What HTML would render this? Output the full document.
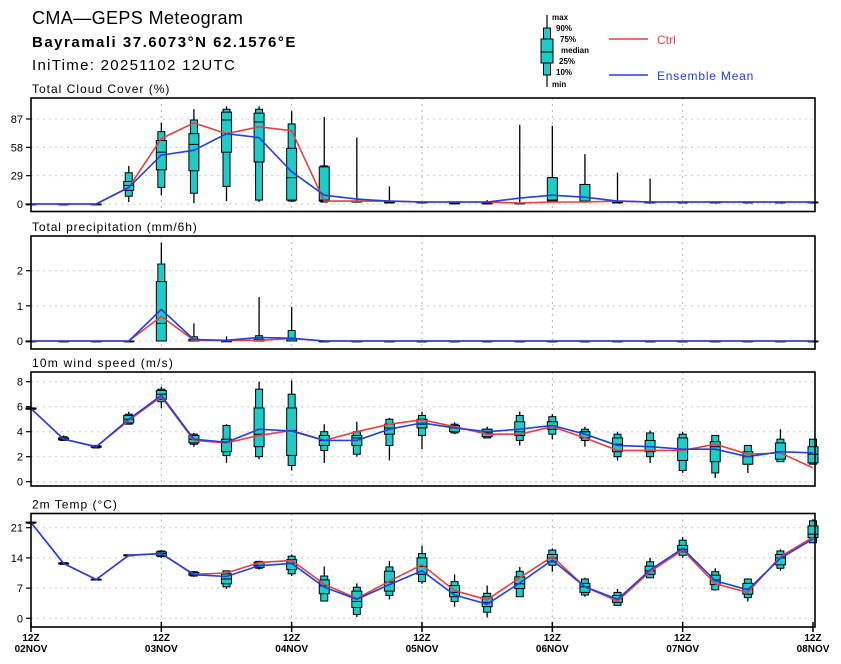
<!DOCTYPE html>
<html><head><meta charset="utf-8"><style>
html,body{margin:0;padding:0;background:#fff;}
svg{display:block;font-family:"Liberation Sans",sans-serif;}
</style></head><body>
<svg id="chart" width="841" height="664" viewBox="0 0 841 664" xmlns="http://www.w3.org/2000/svg">
<g>
<text x="32" y="24" font-size="18" letter-spacing="0.4">CMA—GEPS Meteogram</text>
<text x="32" y="47" font-size="15" font-weight="bold" letter-spacing="1.5">Bayramali 37.6073°N 62.1576°E</text>
<text x="32" y="70" font-size="15" letter-spacing="1.3">IniTime: 20251102 12UTC</text>
</g>
<g font-size="8" font-weight="bold">
<line x1="547" y1="15" x2="547" y2="87" stroke="#000" stroke-width="1.2"/>
<rect x="543.5" y="28" width="7" height="47" fill="#1ecbc8" stroke="#000"/>
<rect x="541" y="39" width="12" height="24" fill="#1ecbc8" stroke="#000"/>
<line x1="541" y1="52" x2="553" y2="52" stroke="#000"/>
<text x="552" y="20">max</text><text x="556" y="31">90%</text><text x="560" y="42">75%</text>
<text x="561" y="53">median</text><text x="559" y="64">25%</text><text x="556" y="75">10%</text><text x="552" y="87">min</text>
<line x1="609" y1="39" x2="648" y2="39" stroke="#e84040" stroke-width="1.5"/>
<text x="657" y="44" font-size="12" font-weight="normal" fill="#e84040">Ctrl</text>
<line x1="609" y1="75" x2="648" y2="75" stroke="#2040e0" stroke-width="1.5"/>
<text x="657" y="80" font-size="12" font-weight="normal" fill="#2040e0" letter-spacing="0.8">Ensemble Mean</text>
</g>
<g id="panels"></g>
</svg>
<script>
// time axis: 25 steps of 6h from 12Z 02NOV
const dayLabels = ["02NOV","03NOV","04NOV","05NOV","06NOV","07NOV","08NOV"];

// Cloud cover (%)
const cloudMin = [0,0,0,2,9,1,3,2,2,2,2,2,2,1,1,1,2,2,2,2,2,2,2,2,2];
const cloudP10 = [0,0,0,8,17,11,18,4,3,2,2,2,2,1,1,1,2,2,2,2,2,2,2,2,2];
const cloudP25 = [0,0,0,14,35,34,53,43,4,3,2,2,2,1,1,1,3,2,2,2,2,2,2,2,2];
const cloudMed = [0,0,0,19,53,61,86,84,27,4,3,2,2,1,1,1,4,3,2,2,2,2,2,2,2];
const cloudP75 = [0,0,0,23,65,72,94,93,57,38,3,2,2,1,1,1,27,20,2,2,2,2,2,2,2];
const cloudP90 = [0,0,0,32,74,86,97,97,82,39,3,2,2,1,1,1,27,20,2,2,2,2,2,2,2];
const cloudMax = [0,0,0,39,83,97,100,100,95,89,68,18,2,1,4,81,80,51,32,26,2,2,2,2,2];
const cloudCtrl = [0,0,0,17,67,83,72,79,75,3,3,3,2,2,2,1,2,2,3,2,2,2,2,2,2];
const cloudEns = [0,0,0,17,50,55,72,68,33,9,5,3,2,2,2,6,9,7,3,2,2,2,2,2,2];

// Precipitation (mm/6h)
const precMin = [0,0,0,0,0,0,0,0,0,0,0,0,0,0,0,0,0,0,0,0,0,0,0,0,0];
const precP10 = [0,0,0,0,0,0,0,0,0,0,0,0,0,0,0,0,0,0,0,0,0,0,0,0,0];
const precP25 = [0,0,0,0,0,0,0,0,0,0,0,0,0,0,0,0,0,0,0,0,0,0,0,0,0];
const precMed = [0,0,0,0,0.5,0,0,0,0,0,0,0,0,0,0,0,0,0,0,0,0,0,0,0,0];
const precP75 = [0,0,0,0,1.69,0.05,0,0.05,0.05,0,0,0,0,0,0,0,0,0,0,0,0,0,0,0,0];
const precP90 = [0,0,0,0,2.19,0.12,0.02,0.15,0.3,0,0,0,0,0,0,0,0,0,0,0,0,0,0,0,0];
const precMax = [0,0,0,0,2.8,0.5,0.13,1.25,0.97,0,0,0,0,0,0,0,0,0,0,0,0,0,0,0,0];
const precCtrl = [0,0,0,0,0.7,0.02,0.01,0.02,0.07,0,0,0,0,0,0,0,0,0,0,0,0,0,0,0,0];
const precEns = [0,0,0,0,0.9,0.04,0.02,0.1,0.08,0,0,0,0,0,0,0,0,0,0,0,0,0,0,0,0];

// 10m wind speed (m/s)
const windMin = [5.8,3.3,2.7,4.6,5.9,2.8,1.5,1.8,0.9,1.5,2.0,1.7,2.6,3.8,3.5,2.9,3.4,2.8,1.7,1.5,0.7,0.3,0.7,1.6,1.4];
const windP10 = [5.8,3.3,2.7,4.6,6.4,3.0,2.1,2.0,1.3,2.5,2.2,2.9,3.7,3.9,3.5,3.3,3.8,3.3,2.0,2.0,0.9,0.7,1.4,1.6,1.4];
const windP25 = [5.8,3.35,2.75,4.7,6.6,3.1,2.4,2.8,2.1,2.9,2.9,3.8,4.3,4.0,3.6,3.7,4.2,3.5,2.4,2.4,1.7,1.6,1.4,1.8,1.5];
const windMed = [5.85,3.4,2.8,5.0,7.0,3.4,3.2,3.8,4.1,3.3,3.5,4.3,4.6,4.3,3.9,4.0,4.4,4.0,3.0,2.8,2.6,2.8,2.0,2.4,2.2];
const windP75 = [5.9,3.5,2.85,5.3,7.3,3.7,3.4,5.9,5.9,3.7,3.7,4.6,5.0,4.5,4.2,4.8,4.8,4.0,3.5,3.3,3.5,3.2,2.4,3.1,2.8];
const windP90 = [5.9,3.6,2.9,5.4,7.4,3.8,4.5,7.4,7.0,4.0,4.0,5.0,5.3,4.6,4.2,5.3,5.2,4.2,3.8,3.9,3.8,3.7,2.9,3.4,3.4];
const windMax = [5.9,3.7,2.9,5.6,7.6,3.9,4.6,8.0,8.1,4.6,4.8,5.1,5.6,4.75,4.4,5.6,5.4,4.4,4.0,4.1,4.0,3.7,2.9,4.2,3.4];
const windCtrl = [5.85,3.4,2.8,4.9,6.8,3.3,3.1,3.7,4.1,3.3,4.0,4.6,4.95,4.4,3.8,3.8,4.4,3.5,2.5,2.5,2.5,3.0,2.2,2.3,1.1];
const windEns = [5.85,3.4,2.8,5.0,6.9,3.4,3.15,4.2,4.05,3.3,3.3,4.2,4.7,4.3,4.0,4.2,4.5,3.8,2.9,2.8,2.6,2.6,2.0,2.4,2.3];

// 2m temperature (°C)
const tempMin = [22.0,12.4,8.8,14.4,14.0,9.6,6.8,11.3,9.8,4.0,0.3,4.4,8.0,2.7,0.2,5.0,10.8,5.0,3.0,9.4,14.0,6.4,3.9,11.0,17.5];
const tempP10 = [22.0,12.5,8.9,14.5,14.3,9.8,7.3,11.6,10.3,4.0,0.9,5.3,8.5,3.9,1.4,5.0,12.3,5.4,3.0,9.4,14.6,6.6,4.8,11.6,17.5];
const tempP25 = [22.1,12.6,8.95,14.5,14.5,10.0,8.0,11.8,11.3,5.7,2.5,6.3,10.2,5.0,2.7,6.9,13.1,6.0,3.7,10.2,15.4,7.8,5.6,12.4,18.7];
const tempMed = [22.2,12.7,9.0,14.6,15.0,10.3,9.1,12.3,12.8,7.5,3.9,8.4,12.0,6.0,3.7,8.0,14.0,7.3,4.5,11.0,16.0,8.9,6.8,14.0,19.5];
const tempP75 = [22.3,12.8,9.05,14.7,15.4,10.6,10.3,13.0,13.6,8.9,6.3,10.9,14.0,7.6,5.0,9.6,14.8,8.1,5.3,12.1,16.9,10.0,8.1,14.8,21.4];
const tempP90 = [22.3,12.9,9.1,14.7,15.6,10.8,11.0,13.2,14.4,9.8,7.2,11.9,15.0,8.5,5.8,10.9,15.8,9.1,6.0,13.1,18.1,10.8,9.1,15.6,22.6];
const tempMax = [22.4,13.0,9.2,14.8,15.8,10.9,11.0,13.3,14.8,12.0,8.1,13.3,16.8,10.2,7.6,11.9,16.2,9.4,6.8,14.0,18.8,11.6,9.3,16.0,23.0];
const tempCtrl = [22.2,12.7,9.0,14.6,15.0,10.2,10.5,12.9,13.4,7.9,4.6,8.6,12.4,6.4,4.3,9.4,14.3,7.3,4.0,10.8,15.8,8.0,6.0,14.3,18.8];
const tempEns = [22.2,12.7,9.0,14.6,15.0,10.1,9.7,12.2,12.7,7.2,4.4,7.8,11.0,5.4,3.3,8.2,13.5,7.3,4.4,11.2,16.2,8.7,6.6,13.9,18.4];

const X0 = 31, X1 = 813, NSTEP = 24;
function xScale(i){ return X0 + (X1 - X0) * i / NSTEP; }

const NS = "http://www.w3.org/2000/svg";
const root = document.getElementById('panels');
function mk(tag, attrs, parent){
  const e = document.createElementNS(NS, tag);
  for (const k in attrs) e.setAttribute(k, attrs[k]);
  (parent || root).appendChild(e);
  return e;
}

function panel(cfg){
  const g = mk('g', {});
  
  
  const yScale = v => cfg.y0 - (v - cfg.vmin) * (cfg.y0 - cfg.yTop) / (cfg.vmax - cfg.vmin);
  const t = mk('text', {x: 32, y: cfg.top - 5, 'font-size': 12, 'letter-spacing': cfg.ls}, g);
  t.textContent = cfg.title;
  
  
  cfg.ticks.forEach(v => {
    const y = yScale(v);
    mk('line', {x1: X0, x2: 815, y1: y, y2: y, stroke: '#c8c8c8', 'stroke-width': 1, 'stroke-dasharray': '2,4'}, g);
    mk('line', {x1: X0 - 5, x2: X0, y1: y, y2: y, stroke: '#000', 'stroke-width': 1.2}, g);
    const tl = mk('text', {x: X0 - 8, y: y + 4, 'font-size': 11, 'text-anchor': 'end'}, g);
    tl.textContent = v;
    
    
  });
  for (let d = 1; d < dayLabels.length - 1; d++) {
    const x = xScale(d * 4);
    mk('line', {x1: x, x2: x, y1: cfg.top, y2: cfg.bottom, stroke: '#b0b0b0', 'stroke-width': 1, 'stroke-dasharray': '2,4'}, g);
  }
  for (let i = 0; i <= NSTEP; i++) {
    const x = xScale(i);
    const bg = mk('g', {}, g);
    
    
    mk('line', {x1: x, x2: x, y1: yScale(cfg.mx[i]), y2: yScale(cfg.mn[i]), stroke: '#000', 'stroke-width': 1.3}, bg);
    const y90 = yScale(cfg.p90[i]), y10 = yScale(cfg.p10[i]);
    mk('rect', {x: x - 3.5, y: y90, width: 7, height: Math.max(y10 - y90, 0.8), fill: '#1ecbc8', stroke: '#000', 'stroke-width': 1}, bg);
    const y75 = yScale(cfg.p75[i]), y25 = yScale(cfg.p25[i]);
    mk('rect', {x: x - 5, y: y75, width: 10, height: Math.max(y25 - y75, 0.8), fill: '#1ecbc8', stroke: '#000', 'stroke-width': 1}, bg);
    const ym = yScale(cfg.med[i]);
    mk('line', {x1: x - 5, x2: x + 5, y1: ym, y2: ym, stroke: '#000', 'stroke-width': 1}, bg);
  }
  const pts = arr => arr.map((v, i) => xScale(i).toFixed(1) + ',' + yScale(v).toFixed(1)).join(' ');
  const lc = mk('polyline', {points: pts(cfg.ctrl), fill: 'none', stroke: '#e84040', 'stroke-width': 1.6}, g);
  
  
  const le = mk('polyline', {points: pts(cfg.ens), fill: 'none', stroke: '#2040e0', 'stroke-width': 1.6}, g);
  
  
  const fr = mk('rect', {x: X0, y: cfg.top, width: 815 - X0, height: cfg.bottom - cfg.top, fill: 'none', stroke: '#000', 'stroke-width': 1.6}, g);
  
  
}

panel({name: 'cloud-cover', title: 'Total Cloud Cover (%)', ls: '1', top: 98, bottom: 211.5, y0: 204, yTop: 119, vmin: 0, vmax: 87,
  ticks: [0, 29, 58, 87], mn: cloudMin, p10: cloudP10, p25: cloudP25, med: cloudMed, p75: cloudP75, p90: cloudP90, mx: cloudMax, ctrl: cloudCtrl, ens: cloudEns});
panel({name: 'precipitation', title: 'Total precipitation (mm/6h)', ls: '0.9', top: 236, bottom: 349, y0: 341, yTop: 270.7, vmin: 0, vmax: 2,
  ticks: [0, 1, 2], mn: precMin, p10: precP10, p25: precP25, med: precMed, p75: precP75, p90: precP90, mx: precMax, ctrl: precCtrl, ens: precEns});
panel({name: 'wind-speed', title: '10m wind speed (m/s)', ls: '1.2', top: 372, bottom: 486, y0: 481.7, yTop: 381.7, vmin: 0, vmax: 8,
  ticks: [0, 2, 4, 6, 8], mn: windMin, p10: windP10, p25: windP25, med: windMed, p75: windP75, p90: windP90, mx: windMax, ctrl: windCtrl, ens: windEns});
panel({name: 'temperature', title: '2m Temp (°C)', ls: '1', top: 513.5, bottom: 627, y0: 618.3, yTop: 527.7, vmin: 0, vmax: 21,
  ticks: [0, 7, 14, 21], mn: tempMin, p10: tempP10, p25: tempP25, med: tempMed, p75: tempP75, p90: tempP90, mx: tempMax, ctrl: tempCtrl, ens: tempEns});

const xg = mk('g', {});


dayLabels.forEach((d, k) => {
  const x = xScale(k * 4);
  mk('line', {x1: x, x2: x, y1: 622, y2: 632, stroke: '#000', 'stroke-width': 1.5}, xg);
  const t1 = mk('text', {x: x, y: 641, 'font-size': 10, 'font-weight': 'bold', 'text-anchor': 'middle'}, xg);
  t1.textContent = '12Z';
  
  
  const t2 = mk('text', {x: x, y: 652, 'font-size': 10, 'font-weight': 'bold', 'text-anchor': 'middle'}, xg);
  t2.textContent = d;
  
  
});
</script>
</body></html>
